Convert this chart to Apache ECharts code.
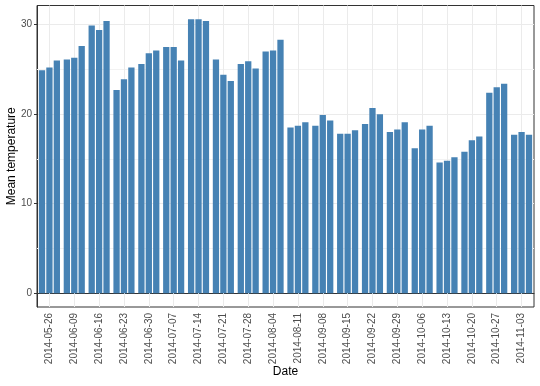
<!DOCTYPE html>
<html>
<head>
<meta charset="utf-8">
<script src="https://cdn.jsdelivr.net/npm/echarts@6/dist/echarts.min.js"></script>
<style>html,body{margin:0;padding:0;background:#fff}#chart{width:540px;height:386px}</style>
</head>
<body>
<div id="chart"></div>
<script>
const weeks = ['2014-05-26','2014-06-09','2014-06-16','2014-06-23','2014-06-30','2014-07-07','2014-07-14','2014-07-21','2014-07-28','2014-08-04','2014-08-11','2014-09-08','2014-09-15','2014-09-22','2014-09-29','2014-10-06','2014-10-13','2014-10-20','2014-10-27','2014-11-03'];
const day1 = [24.9,26.1,29.9,22.7,25.6,27.5,30.6,26.1,25.6,27.0,18.5,18.7,17.8,18.9,18.0,16.2,14.6,15.8,22.4,17.7];
const day2 = [25.2,26.3,29.4,23.9,26.8,27.5,30.6,24.4,25.9,27.1,18.7,19.9,17.8,20.7,18.3,18.3,14.8,17.1,23.0,18.0];
const day3 = [26.0,27.6,30.4,25.2,27.1,26.0,30.4,23.7,25.1,28.3,19.1,19.3,18.2,20.0,19.1,18.7,15.2,17.5,23.4,17.7];
const yMajor = [0,10,20,30];
const yMinor = [5,15,25];

const chart = echarts.init(document.getElementById('chart'), null, {renderer:'canvas'});
const font = 'Liberation Sans, Arial, sans-serif';
const barColor = '#4682B4';
function barSeries(name, data, extra) {
  return Object.assign({
    name: name, type: 'bar', data: data,
    itemStyle: {color: barColor},
    barGap: '18%', barCategoryGap: '15%',
    z: 2, silent: true
  }, extra || {});
}
chart.setOption({
  animation: false,
  grid: {left: 37, right: 6, top: 5.5, bottom: 79, outerBoundsMode: 'none', containLabel: false,
         show: true, borderColor: '#333333', borderWidth: 1, backgroundColor: '#fff'},
  xAxis: {
    type: 'category', data: weeks,
    name: 'Date', nameLocation: 'middle', nameGap: 59, nameMoveOverlap: false,
    nameTextStyle: {fontFamily: font, fontSize: 12, color: '#000'},
    axisLine: {show: true, lineStyle: {color: '#333333'}},
    axisTick: {show: true, alignWithLabel: true, length: 3, lineStyle: {color: '#333333'}},
    axisLabel: {rotate: 90, interval: 0, fontFamily: font, fontSize: 10, color: '#4d4d4d', margin: 6},
    splitLine: {show: false}
  },
  yAxis: {
    type: 'value', min: -1.53, max: 32.13,
    name: 'Mean temperature', nameLocation: 'middle', nameGap: 19, nameMoveOverlap: false,
    nameTextStyle: {fontFamily: font, fontSize: 12, color: '#000'},
    axisLine: {show: true, lineStyle: {color: '#333333'}},
    axisTick: {show: true, length: 3, customValues: yMajor, lineStyle: {color: '#333333'}},
    axisLabel: {customValues: yMajor, fontFamily: font, fontSize: 10, color: '#4d4d4d', margin: 5},
    splitLine: {show: true, lineStyle: {color: '#ebebeb', width: 1}}
  },
  series: [
    barSeries('Day 1', day1, {
      markLine: {
        silent: true, symbol: 'none', z: 1, label: {show: false},
        lineStyle: {color: '#f2f2f2', width: 1, type: 'solid'},
        data: yMinor.map(v => ({yAxis: v}))
      }
    }),
    barSeries('Day 2', day2, {
      markLine: {
        silent: true, symbol: 'none', z: 1, label: {show: false},
        lineStyle: {color: '#ebebeb', width: 1, type: 'solid'},
        data: weeks.map(w => ({xAxis: w}))
      }
    }),
    barSeries('Day 3', day3)
  ]
});
</script>
</body>
</html>
